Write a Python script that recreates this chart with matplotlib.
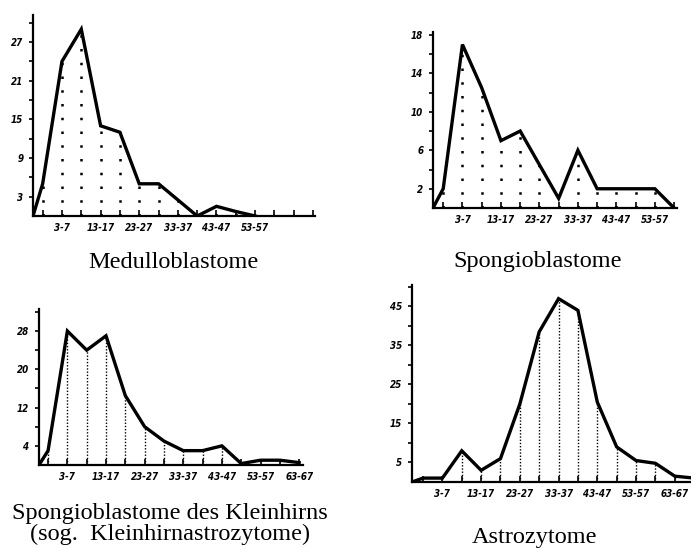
import matplotlib.pyplot as plt
import numpy as np

# age groups (5-year classes), first class is 0-2
age_groups = ['0-2', '3-7', '8-12', '13-17', '18-22', '23-27', '28-32', '33-37',
              '38-42', '43-47', '48-52', '53-57', '58-62', '63-67', '68-72']

# number of cases per age group
medullo = [5, 24, 29, 14, 13, 5, 5, 2.5, 0, 1.5, 0.7, 0]
spongio = [2, 17, 12.5, 7, 8, 4.5, 1, 6, 2, 2, 2, 2, 0]
kleinhirn = [3, 28, 24, 27, 14.5, 8, 5, 3, 3, 4, 0.3, 1, 1, 0.5]
astro = [1, 1, 8, 3, 6, 20, 38.5, 47, 44, 20.5, 9, 5.5, 4.8, 1.5, 1]

titles = ['Medulloblastome', 'Spongioblastome',
          'Spongioblastome des Kleinhirns\n(sog.  Kleinhirnastrozytome)', 'Astrozytome']

W, H = 691, 548
fig = plt.figure(figsize=(W / 100, H / 100), dpi=100)

tickfont = dict(family='DejaVu Sans', weight='bold', style='italic',
                stretch='condensed', size=7)


def panel(rect, vals, xlim, ylim, ylab, ystep, nlab, dots):
    # rect in pixels: left, axis-y, right, top
    l, b, r, t = rect
    ax = fig.add_axes([l / W, 1 - b / H, (r - l) / W, (b - t) / H])
    ax.set_xlim(*xlim)
    ax.set_ylim(*ylim)
    for s in ['top', 'right']:
        ax.spines[s].set_visible(False)
    for s in ['left', 'bottom']:
        ax.spines[s].set_linewidth(1.6)

    x = np.arange(len(vals))
    v = np.array(vals, dtype=float)
    keep = v > 0
    ax.vlines(x[keep], 0, v[keep], colors='k', linewidth=dots[1],
              linestyles=[(0, dots[0])])
    ax.plot(np.r_[xlim[0], x], np.r_[0, v], color='k', lw=2.4,
            solid_joinstyle='miter', clip_on=True)

    n_ticks = int(np.floor(xlim[1])) + 1
    ax.set_xticks(np.arange(n_ticks))
    ax.set_xticklabels([age_groups[i] if (i % 2 == 1 and i // 2 < nlab) else ''
                        for i in range(n_ticks)], fontdict=tickfont)
    ax.tick_params(axis='x', direction='in', length=4, width=1.2, pad=5)

    yt = np.arange(ystep, ylim[1] + 0.01, ystep)
    ax.set_yticks(yt)
    ax.set_yticklabels([str(int(y)) if int(y) in ylab else '' for y in yt],
                       fontdict=tickfont)
    ax.tick_params(axis='y', direction='out', length=3, width=1.2, pad=4)
    ax.patch.set_alpha(0)
    return ax


sparse = ((1, 4.5), 1.8)
dense = ((1, 1.3), 1.0)

panel((33, 216, 315, 15), medullo, (-0.5, 14.1), (0, 31.2),
      [3, 9, 15, 21, 27], 3, 6, sparse)
panel((433, 208, 677, 32), spongio, (-0.53, 12.15), (0, 18.3),
      [2, 6, 10, 14, 18], 2, 6, sparse)
panel((39, 465, 303, 309), kleinhirn, (-0.47, 13.2), (0, 32.6),
      [4, 12, 20, 28], 4, 7, dense)
panel((412, 482, 691, 285), astro, (-0.57, 13.84), (0, 50.5),
      [5, 15, 25, 35, 45], 5, 7, dense)

capfont = dict(family='Liberation Serif', size=17.5, ha='center', va='center')
fig.text(173 / W, 1 - 263 / H, titles[0], **capfont)
fig.text(538 / W, 1 - 262 / H, titles[1], **capfont)
fig.text(170 / W, 1 - 524 / H, titles[2], linespacing=0.95, **capfont)
fig.text(535 / W, 1 - 537 / H, titles[3], **capfont)

fig.savefig('out.png', dpi=100)
